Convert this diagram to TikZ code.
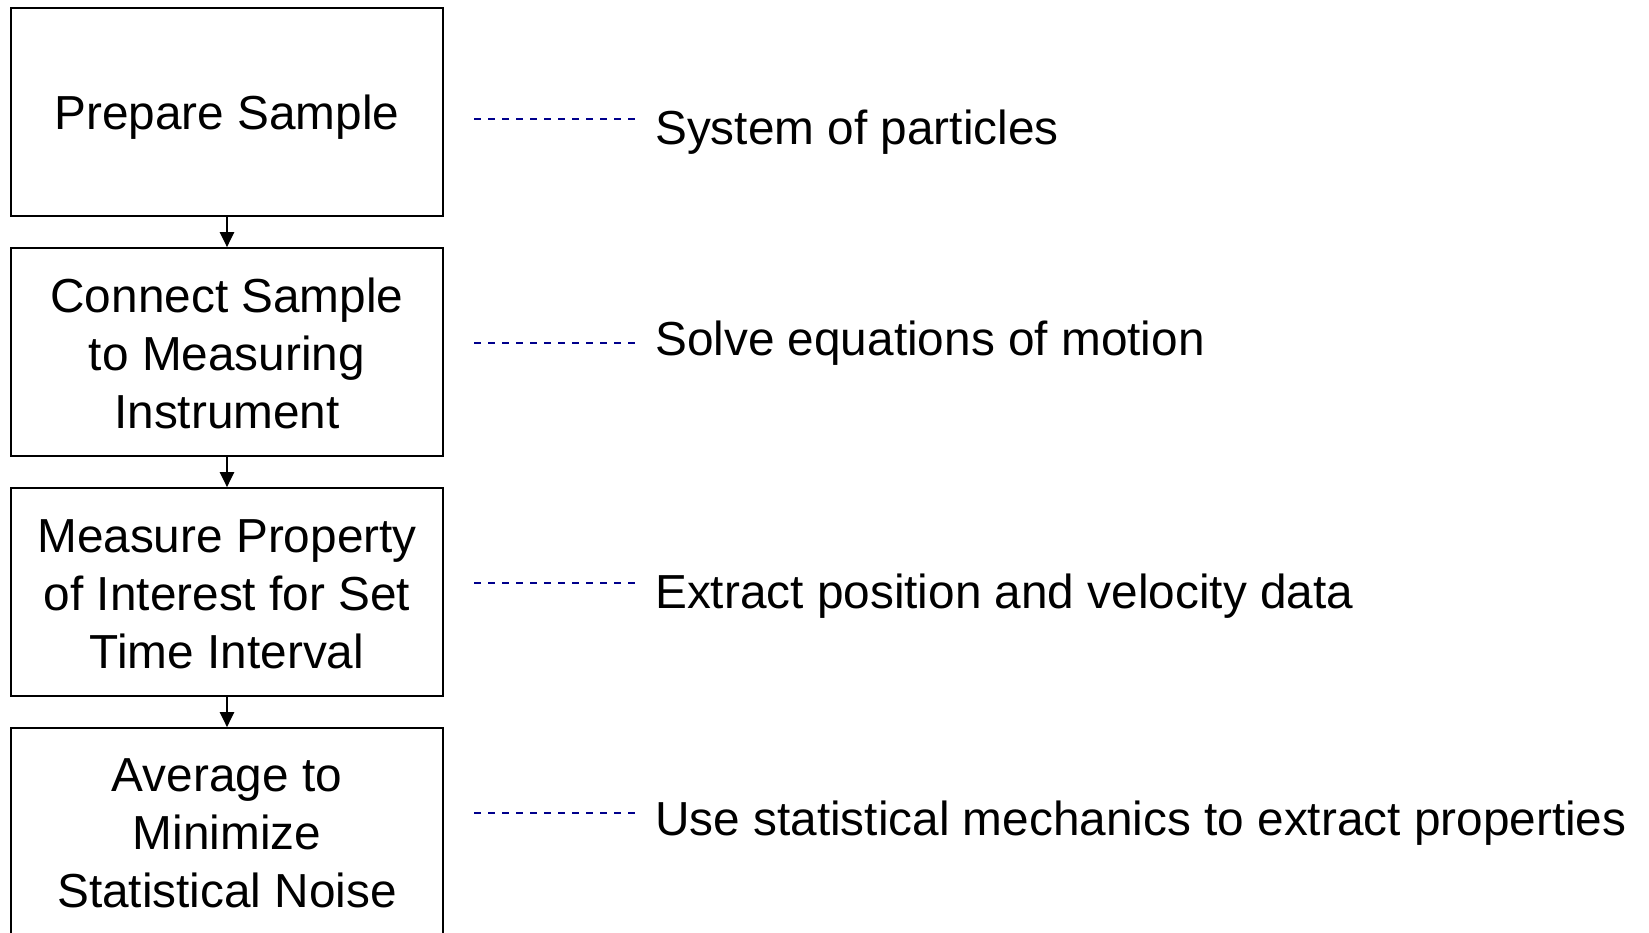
\documentclass[tikz,border=0pt]{standalone}
\usepackage{fontspec}
\setmainfont{Liberation Sans}
\usetikzlibrary{arrows.meta}
\definecolor{dashnavy}{RGB}{0,0,140}
\newcommand{\lowerby}[2]{\raisebox{-#1}[\height][\depth]{#2}}
\begin{document}
\begin{tikzpicture}[x=1pt,y=-1pt,
  stepbox/.style={draw=black,line width=2pt,minimum width=432pt,minimum height=207.5pt,
    inner sep=0pt,align=center,font=\fontsize{47.75}{58}\selectfont},
  label/.style={anchor=base west,inner sep=0pt,font=\fontsize{47.75}{58}\selectfont},
  flow/.style={line width=1.4pt,-{Triangle[width=14.5pt,length=15pt]}},
  dashline/.style={dashnavy,line width=1.1pt,dash pattern=on 7pt off 7pt}]
\useasboundingbox (0,0) rectangle (1649,932);
\clip (0,0) rectangle (1649,932);
\fill[white] (0,0) rectangle (1649,932);
\node[stepbox] (b1) at (227,112) {\lowerby{5.3pt}{Prepare Sample}};
\node[stepbox] (b2) at (227,351.8) {\lowerby{7.4pt}{\begin{tabular}{@{}c@{}}Connect Sample\\to Measuring\\Instrument\end{tabular}}};
\node[stepbox] (b3) at (227,591.8) {\lowerby{7.4pt}{\begin{tabular}{@{}c@{}}Measure Property\\of Interest for Set\\Time Interval\end{tabular}}};
\node[stepbox] (b4) at (227,831.8) {\lowerby{6.3pt}{\begin{tabular}{@{}c@{}}Average to\\Minimize\\Statistical Noise\end{tabular}}};
\draw[flow] (b1.south) -- (b2.north);
\draw[flow] (b2.south) -- (b3.north);
\draw[flow] (b3.south) -- (b4.north);
\node[label] (t1) at (655,144) {System of particles};
\node[label] (t2) at (655,355) {Solve equations of motion};
\node[label] (t3) at (655,608) {Extract position and velocity data};
\node[label] (t4) at (655,835) {Use statistical mechanics to extract properties};
\coordinate (d1a) at (474,119); \coordinate (d1b) at (640,119);
\coordinate (d2a) at (474,343); \coordinate (d2b) at (640,343);
\coordinate (d3a) at (474,583); \coordinate (d3b) at (640,583);
\coordinate (d4a) at (474,813); \coordinate (d4b) at (640,813);
\draw[dashline] (d1a) -- (d1b);
\draw[dashline] (d2a) -- (d2b);
\draw[dashline] (d3a) -- (d3b);
\draw[dashline] (d4a) -- (d4b);
\end{tikzpicture}
\end{document}
